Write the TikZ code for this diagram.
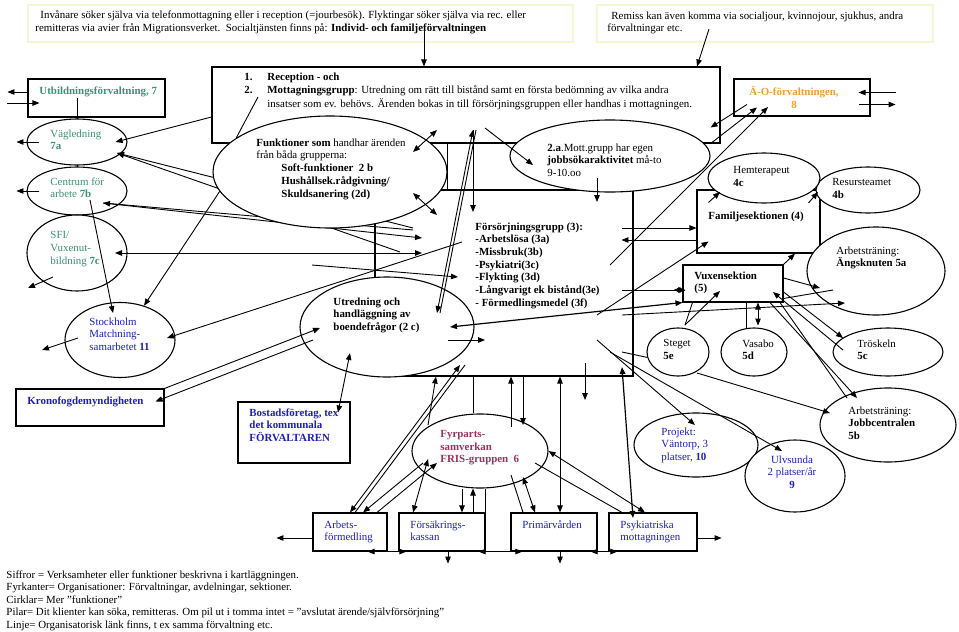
\documentclass[tikz,border=0pt]{standalone}
\usepackage{fontspec}
\setmainfont{Liberation Serif}
\usetikzlibrary{arrows.meta,shapes.geometric}
\definecolor{utbgreen}{RGB}{60,145,120}
\definecolor{aoorange}{RGB}{238,160,40}
\definecolor{orgblue}{RGB}{30,30,185}
\definecolor{fyrred}{RGB}{155,50,95}
\definecolor{notebox}{RGB}{246,245,212}
\begin{document}
\begin{tikzpicture}[x=1pt,y=-1pt,font=\fontsize{10.9}{12.8}\selectfont,line width=.9pt,
  >={Triangle[length=7pt,width=5.5pt]},
  box/.style={draw,line width=1.1pt,inner sep=0pt},
  oval/.style={draw,ellipse,fill=white,line width=1.1pt,inner sep=0pt},
  note/.style={draw=notebox,line width=1.5pt,inner sep=0pt},
  txt/.style={anchor=north west,align=left,inner sep=0pt}]
\useasboundingbox (0,0) rectangle (959,632);
\node[note,minimum width=545pt,minimum height=37pt] (topl) at (300.5,23.5) {};
\node[note,minimum width=336pt,minimum height=37pt] (topr) at (765,23.5) {};
\node[box,minimum width=508pt,minimum height=76pt] (mainbox) at (466,105) {};
\node[box,minimum width=137pt,minimum height=38pt] (utb) at (96.5,98) {};
\node[box,minimum width=136pt,minimum height=37pt] (ao) at (802,97.5) {};
\node[box,minimum width=258pt,minimum height=186pt] (forsorj) at (504,283) {};
\node[box,minimum width=123pt,minimum height=63pt] (famil) at (758.5,221.5) {};
\node[box,minimum width=100pt,minimum height=37pt] (vuxen) at (733,283.5) {};
\node[box,minimum width=148pt,minimum height=37pt] (krono) at (90,407.5) {};
\node[box,minimum width=112pt,minimum height=61pt] (bostad) at (294,432.5) {};
\node[box,minimum width=74pt,minimum height=38pt] (arbets) at (350,532) {};
\node[box,minimum width=86pt,minimum height=38pt] (forsak) at (442,532) {};
\node[box,minimum width=86pt,minimum height=38pt] (primar) at (554,532) {};
\node[box,minimum width=88pt,minimum height=38pt] (psyk) at (653,532) {};
\draw ([xshift=-19.5pt]utb.center) -- ++(0,155);
\node[oval,minimum width=100pt,minimum height=46pt] (vagl) at (77,142) {};
\node[oval,minimum width=100pt,minimum height=48pt] (centrum) at (77,191) {};
\node[oval,minimum width=100pt,minimum height=76pt] (sfi) at (77,253) {};
\node[oval,minimum width=110pt,minimum height=75pt] (stock) at (120,340) {};
\draw[<-] ([shift={(40,11)}]vagl.center) -- ([shift={(-91,-55)}]forsorj.center);
\draw[<-] ([shift={(40,11)}]vagl.center) -- ([shift={(-104,-31)}]forsorj.center);
\draw[<->] ([shift={(26,12)}]centrum.center) -- ([shift={(-82,-45)}]forsorj.center);
\draw ([shift={(26,12)}]centrum.center) -- ([shift={(-91,-53)}]forsorj.center);
\draw[<->] ([shift={(38,0)}]sfi.center) -- ([shift={(-82,-30)}]forsorj.center);
\draw[->] ([shift={(-192,-18)}]forsorj.center) -- ([shift={(-46,-6)}]forsorj.center);
\node[oval,minimum width=234pt,minimum height=112pt] (funk) at (330,172) {};
\node[oval,minimum width=200pt,minimum height=72pt] (twoa) at (610,156) {};
\node[oval,minimum width=174pt,minimum height=100pt] (utred) at (387,327) {};
\node[oval,minimum width=136pt,minimum height=74pt] (fyr) at (480,451) {};
\node[oval,minimum width=104pt,minimum height=46pt] (resurs) at (868,190) {};
\node[oval,minimum width=112pt,minimum height=50pt] (hem) at (764,178) {};
\node[oval,minimum width=138pt,minimum height=88pt] (angs) at (876,271) {};
\node[oval,minimum width=62pt,minimum height=48pt] (steget) at (678,352) {};
\node[oval,minimum width=66pt,minimum height=48pt] (vasabo) at (754,352) {};
\node[oval,minimum width=110pt,minimum height=48pt] (trosk) at (888,352) {};
\node[oval,minimum width=136pt,minimum height=74pt] (jobb) at (888,425) {};
\node[oval,minimum width=124pt,minimum height=64pt] (vantorp) at (696,445) {};
\node[oval,minimum width=100pt,minimum height=72pt] (ulv) at (795,476) {};
\node[txt] (topltext) at (35,10) {\hspace*{5pt}Invånare söker själva via telefonmottagning eller i reception (=jourbesök). Flyktingar söker själva via rec. eller\\remitteras via avier från Migrationsverket.\ \ Socialtjänsten finns på: \textbf{Individ- och familjeförvaltningen}};
\node[txt] (toprtext) at (607,11) {\hspace*{4pt}Remiss kan även komma via socialjour, kvinnojour, sjukhus, andra\\förvaltningar etc.};
\node[txt,font=\fontsize{10.9}{13.5}\selectfont] (maintext) at (244,72) {\makebox[23pt][l]{\textbf{1.}}\textbf{Reception - och}\\\makebox[23pt][l]{\textbf{2.}}\textbf{Mottagningsgrupp}: Utredning om rätt till bistånd samt en första bedömning av vilka andra\\\hspace*{23pt}insatser som ev. behövs. Ärenden bokas in till försörjningsgruppen eller handhas i mottagningen.};
\node[txt,text=utbgreen] (utbtext) at (39,86) {\textbf{Utbildningsförvaltning, 7}};
\node[anchor=north,align=center,inner sep=0pt,text=aoorange] (aotext) at (794,86) {\textbf{Ä-O-förvaltningen,}\\\textbf{8}};
\node[txt,text=utbgreen] (vagltext) at (50,129) {Vägledning\\\textbf{7a}};
\node[txt,text=utbgreen] (centrumtext) at (50,177) {Centrum för\\arbete \textbf{7b}};
\node[txt,text=utbgreen] (sfitext) at (50,231) {SFI/\\Vuxenut-\\bildning \textbf{7c}};
\node[txt,text=orgblue] (stocktext) at (89,317) {Stockholm\\Matchning-\\samarbetet \textbf{11}};
\node[txt] (funktext) at (256,138) {\textbf{Funktioner som} handhar ärenden\\från båda grupperna:\\\hspace*{25pt}\textbf{Soft-funktioner\ \ 2 b}\\\hspace*{25pt}\textbf{Hushållsek.rådgivning/}\\\hspace*{25pt}\textbf{Skuldsanering (2d)}};
\node[txt] (twoatext) at (547,143) {\textbf{2.a}.Mott.grupp har egen\\\textbf{jobbsökaraktivitet} må-to\\9-10.oo};
\node[txt] (utredtext) at (333,297) {\textbf{Utredning och}\\\textbf{handläggning av}\\\textbf{boendefrågor (2 c)}};
\node[txt,font=\bfseries\fontsize{10.9}{12.7}\selectfont] (forsorjtext) at (475,222) {Försörjningsgrupp (3):\\-Arbetslösa (3a)\\-Missbruk(3b)\\-Psykiatri(3c)\\-Flykting (3d)\\-Långvarigt ek bistånd(3e)\\- Förmedlingsmedel (3f)};
\node[txt] (hemtext) at (733,166) {Hemterapeut\\\textbf{4c}};
\node[txt] (resurstext) at (832,178) {Resursteamet\\\textbf{4b}};
\node[txt] (familtext) at (708,211) {\textbf{Familjesektionen (4)}};
\node[txt] (angstext) at (836,246) {Arbetsträning:\\\textbf{Ängsknuten 5a}};
\node[txt] (vuxentext) at (694,271) {\textbf{Vuxensektion}\\\textbf{(5)}};
\node[txt] (stegettext) at (663,339) {Steget\\\textbf{5e}};
\node[txt] (vasabotext) at (742,339) {Vasabo\\\textbf{5d}};
\node[txt] (trosktext) at (857,339) {Tröskeln\\\textbf{5c}};
\node[txt] (jobbtext) at (848,406) {Arbetsträning:\\\textbf{Jobbcentralen}\\\textbf{5b}};
\node[txt,text=orgblue] (vantorptext) at (661,427) {Projekt:\\Väntorp, 3\\platser, \textbf{10}};
\node[anchor=north,align=center,inner sep=0pt,text=orgblue] (ulvtext) at (792,455) {Ulvsunda\\2 platser/år\\\textbf{9}};
\node[txt,text=fyrred,font=\bfseries\fontsize{10.9}{12.7}\selectfont] (fyrtext) at (440,430) {Fyrparts-\\samverkan\\FRIS-gruppen\ \ 6};
\node[txt,text=orgblue] (kronotext) at (27,396) {\textbf{Kronofogdemyndigheten}};
\node[txt,text=orgblue,font=\bfseries\fontsize{10.9}{12.7}\selectfont] (bostadtext) at (249,408) {Bostadsföretag, tex\\det kommunala\\FÖRVALTAREN};
\node[txt,text=orgblue] (arbetstext) at (324,520) {Arbets-\\förmedling};
\node[txt,text=orgblue] (forsaktext) at (410,520) {Försäkrings-\\kassan};
\node[txt,text=orgblue] (primartext) at (522,520) {Primärvården};
\node[txt,text=orgblue] (psyktext) at (620,520) {Psykiatriska\\mottagningen};
\node[txt,font=\fontsize{10.9}{12.5}\selectfont] (legend) at (6,570) {Siffror = Verksamheter eller funktioner beskrivna i kartläggningen.\\Fyrkanter= Organisationer: Förvaltningar, avdelningar, sektioner.\\Cirklar= Mer ”funktioner”\\Pilar= Dit klienter kan söka, remitteras. Om pil ut i tomma intet = ”avslutat ärende/självförsörjning”\\Linje= Organisatorisk länk finns, t ex samma förvaltning etc.};
\draw[->] ([shift={(123.5,3.5)}]topl.center) -- ([xshift=-42pt]mainbox.north);
\draw[->] ([shift={(-56,5.5)}]topr.center) -- ([xshift=231pt]mainbox.north);
\draw[->] ([yshift=6pt]utb.west) -- ++(-20,0);
\draw[->] ([yshift=-5pt]utb.west) ++(-20,0) -- ++(32,0);
\draw[->] ([yshift=5pt]ao.east) ++(25,0) -- ++(-37,0);
\draw[->] ([shift={(-12,7)}]ao.east) -- ++(37,0);
\draw[->] ([xshift=13pt]vagl.west) -- ++(-23,0);
\draw[->] ([xshift=13pt]centrum.west) -- ++(-23,0);
\draw[->] ([shift={(-24,24)}]sfi.center) -- ++(-25,11);
\draw[->] ([shift={(-42,-2)}]stock.center) -- ++(-36,12);
\draw[->] ([yshift=-12pt]mainbox.west) -- ([xshift=-12pt]vagl.east);
\draw ([shift={(-208,-8)}]mainbox.center) -- (funk.160);
\draw[->] (funk.190) -- (stock.55);
\draw[->] ([shift={(13,9)}]centrum.center) -- ([shift={(-7,-27)}]stock.center);
\draw[->] ([shift={(-42,-41)}]forsorj.center) -- ([shift={(47,-2)}]stock.center);
\draw[->] (krono.north east) -- ([shift={(-67,1)}]utred.center);
\draw[->] ([shift={(-74,13)}]utred.center) -- ([shift={(-9,-6)}]krono.east);
\draw[<->] ([shift={(44,-20)}]bostad.center) -- ([shift={(-37,26)}]utred.center);
\draw[<->] (arbets.north) -- ([shift={(73,38)}]utred.center);
\draw ([xshift=5pt]arbets.north) -- ([shift={(78,38)}]utred.center);
\draw[->] ([shift={(-57,12)}]fyr.center) -- ([xshift=13pt]arbets.north);
\draw[->] ([xshift=27pt]arbets.north) -- ([shift={(-43,12)}]fyr.center);
\draw[->] ([shift={(-52,-26)}]fyr.center) -- ([xshift=-68pt]forsorj.south);
\draw[->] ([shift={(61,13)}]utred.center) -- ([shift={(98,13)}]utred.center);
\draw[<->,line width=1.2pt] ([shift={(63,0)}]utred.center) -- (vuxen.south west);
\draw[<->] ([shift={(7,25)}]mainbox.center) -- ([shift={(50,-14)}]utred.center);
\draw ([shift={(10,25)}]mainbox.center) -- ([shift={(53,-14)}]utred.center);
\draw[->] ([shift={(7,25)}]mainbox.center) -- ++(0,82);
\draw[<->] ([shift={(83,-20)}]funk.center) -- ++(24,-22);
\draw[<->] ([shift={(83,21)}]funk.center) -- ++(24,22);
\draw[->] ([shift={(19,23)}]mainbox.center) -- ([shift={(-77,9)}]twoa.center);
\draw[->] ([shift={(-13,22)}]twoa.center) -- ++(0,24);
\draw (funk.east |- mainbox.south) -- (funk.east |- forsorj.north);
\draw[->] ([shift={(118,-55)}]forsorj.center) -- ([yshift=-6.5pt]famil.west);
\draw[->] ([yshift=-18.5pt]famil.west) -- ++(-75,0);
\draw[->] ([shift={(93,32)}]forsorj.center) -- ([shift={(-50,20)}]famil.center);
\draw[->] ([shift={(106,-18)}]forsorj.center) -- ([shift={(-34,9.5)}]ao.center);
\draw[->] ([xshift=-10pt]mainbox.south east) -- ([shift={(-45,10)}]ao.center);
\draw[->] ([shift={(-55,7)}]ao.center) -- ([shift={(-10,-16)}]mainbox.south east);
\draw[->] ([shift={(-50,-19)}]famil.center) -- ([shift={(-44,14)}]hem.center);
\draw[->] ([shift={(50,-18.5)}]famil.center) -- ([shift={(-50,2)}]resurs.center);
\draw[->] (vuxen.north east) -- ([xshift=36.5pt]famil.south);
\draw[->] ([shift={(118,7)}]forsorj.center) -- ([shift={(3,6.5)}]vuxen.west);
\draw[->] ([shift={(3,6.5)}]vuxen.west) -- ++(-12,0);
\draw[->] ([shift={(118,32)}]forsorj.center) -- ([shift={(-31,32)}]angs.center);
\draw[->] ([yshift=5.5pt]vuxen.east) -- ([shift={(-56,17)}]angs.center);
\draw ([yshift=-15pt]vuxen.east) -- ([shift={(-43,19)}]angs.center);
\draw ([shift={(7,-27)}]steget.center) -- ([xshift=10pt]vuxen.south west);
\draw[->] ([shift={(7,-27)}]steget.center) -- ([shift={(-13,7.5)}]vuxen.center);
\draw[<->] ([xshift=25pt]vuxen.south) -- ++(0,23);
\draw ([xshift=13pt]vuxen.south) -- ++(0,25);
\draw[->] ([yshift=-8.5pt]vuxen.east) -- ([shift={(-45,-14)}]trosk.center);
\draw[->] ([shift={(-45,-2)}]trosk.center) -- ([shift={(40,8.5)}]vuxen.center);
\draw[->] ([xshift=37pt]vuxen.south) -- ([shift={(-31,-27)}]jobb.center);
\draw ([xshift=47pt]vuxen.south) -- ([shift={(-41,-27)}]jobb.center);
\draw[->] ([shift={(19,21)}]steget.center) -- ([shift={(-58,-12)}]jobb.center);
\draw[->] ([shift={(93,57)}]forsorj.center) -- ([shift={(-1,-20)}]vantorp.center);
\draw[->] ([shift={(106,69)}]forsorj.center) -- ([shift={(-13,-25)}]ulv.center);
\draw ([shift={(118,69)}]forsorj.center) -- (steget.190);
\draw ([xshift=-7pt]fyr.north) -- ([xshift=-7pt]fyr.north |- forsorj.south);
\draw[->] ([shift={(31,-24)}]fyr.center) -- ([xshift=31pt]fyr.center |- forsorj.south);
\draw[->] ([xshift=43pt]fyr.center |- forsorj.south) -- ([shift={(43,-26)}]fyr.center);
\draw[<->] ([xshift=6pt]primar.north) -- ([xshift=6pt]primar.north |- forsorj.south);
\draw[->] ([shift={(81,80)}]forsorj.center) -- ++(0,37);
\draw[<->,line width=1.2pt] ([shift={(118,84)}]forsorj.center) -- ([shift={(-20,-14)}]psyk.center);
\draw[<->] ([shift={(-52,8)}]fyr.center) -- ([xshift=-29pt]forsak.north);
\draw[->] ([xshift=-18pt]fyr.south) -- ([xshift=-18pt]fyr.south |- forsak.north);
\draw[->] ([xshift=-7pt]fyr.south |- forsak.north) -- ([xshift=-7pt]fyr.south);
\draw ([xshift=5pt]fyr.south) -- ([xshift=5pt]fyr.south |- forsak.north);
\draw[<->] ([shift={(43,26)}]fyr.center) -- ([xshift=-19pt]primar.north);
\draw ([shift={(31,24)}]fyr.center) -- ([xshift=-31pt]primar.north);
\draw[<->] (fyr.east) -- ([xshift=-8pt]psyk.north);
\draw ([shift={(55,12)}]fyr.center) -- ([xshift=-31pt]psyk.north);
\draw[<->] ([xshift=-20pt]arbets.south east) -- ([xshift=8pt]forsak.south west);
\draw[<->] ([xshift=-7pt]forsak.south east) -- ([xshift=12pt]primar.south west);
\draw[<->] ([xshift=-7pt]primar.south east) -- ([xshift=9pt]psyk.south west);
\draw[->] ([xshift=6pt]forsak.south) -- ++(0,12);
\draw[->] ([xshift=6pt]primar.south) -- ++(0,12);
\draw[->] ([yshift=-6pt]arbets.west) -- ++(-36,0);
\draw[->] ([yshift=-6pt]psyk.east) -- ++(24,0);
\end{tikzpicture}
\end{document}
